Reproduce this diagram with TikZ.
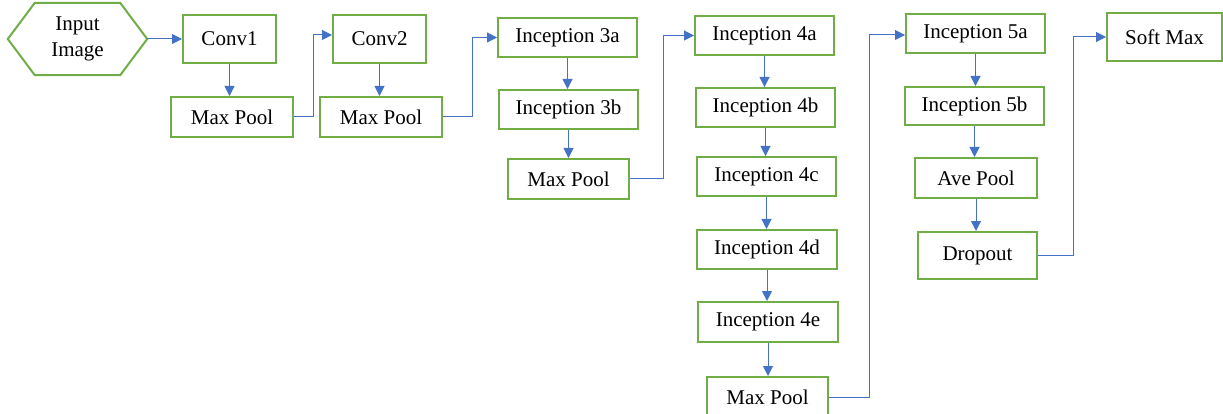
\documentclass[tikz,border=0pt]{standalone}
\usepackage{fontspec}
\setmainfont{Liberation Serif}
\usetikzlibrary{arrows.meta}
\definecolor{boxgreen}{HTML}{70AD47}
\definecolor{arrblue}{HTML}{4472C4}
\begin{document}
\begin{tikzpicture}[x=1pt,y=-1pt,
  box/.style={draw=boxgreen, line width=2pt, inner sep=0pt, align=center,
    font=\fontsize{21}{25}\selectfont},
  arr/.style={draw=arrblue, line width=1pt, -{Triangle[length=10pt,width=10pt]}}]
\useasboundingbox (0,0) rectangle (1223,414);
% input hexagon
\node[inner sep=0pt, minimum width=139pt, minimum height=72pt, align=center,
  font=\fontsize{21}{26}\selectfont] (in) at (77.5,39) {Input\\Image};
\draw[boxgreen, line width=2pt, line join=miter]
  (in.west) -- ([xshift=27pt]in.north west) -- ([xshift=-27pt]in.north east)
  -- (in.east) -- ([xshift=-27pt]in.south east) -- ([xshift=27pt]in.south west) -- cycle;
% boxes
\node[box, minimum width=93pt, minimum height=48pt] (conv1) at (229.5,39) {Conv1};
\node[box, minimum width=122pt, minimum height=40pt] (mp1) at (232,117) {Max Pool};
\node[box, minimum width=93pt, minimum height=48pt] (conv2) at (379.5,39) {Conv2};
\node[box, minimum width=122pt, minimum height=40pt] (mp2) at (381,117) {Max Pool};
\node[box, minimum width=139pt, minimum height=39pt] (i3a) at (567.5,37.5) {Inception 3a};
\node[box, minimum width=139pt, minimum height=39pt] (i3b) at (568.5,109.5) {Inception 3b};
\node[box, minimum width=121pt, minimum height=40pt] (mp3) at (568.5,179) {Max Pool};
\node[box, minimum width=139pt, minimum height=39pt] (i4a) at (764.5,35.5) {Inception 4a};
\node[box, minimum width=139pt, minimum height=39pt] (i4b) at (765.5,107.5) {Inception 4b};
\node[box, minimum width=139pt, minimum height=39pt] (i4c) at (766.5,176.5) {Inception 4c};
\node[box, minimum width=140pt, minimum height=39pt] (i4d) at (767,249.5) {Inception 4d};
\node[box, minimum width=140pt, minimum height=40pt] (i4e) at (768,322) {Inception 4e};
\node[box, minimum width=121pt, minimum height=40pt] (mp4) at (767.5,397) {Max Pool};
\node[box, minimum width=139pt, minimum height=39pt] (i5a) at (975.5,33.5) {Inception 5a};
\node[box, minimum width=139pt, minimum height=38pt] (i5b) at (974.5,106) {Inception 5b};
\node[box, minimum width=122pt, minimum height=40pt] (ap) at (976,178) {Ave Pool};
\node[box, minimum width=119pt, minimum height=47pt] (drop) at (977.5,255.5) {Dropout};
\node[box, minimum width=115pt, minimum height=48pt] (sm) at (1164.5,37) {Soft Max};
% connectors
\draw[arr] (in.east) -- (conv1.west);
\draw[arr] (conv1.south) -- (conv1.south |- mp1.north);
\draw[arr] (mp1.east) -- ++(19,0) |- ([yshift=4pt]conv2.west);
\draw[arr] (conv2.south) -- (conv2.south |- mp2.north);
\draw[arr] (mp2.east) -- ++(29,0) |- (i3a.west);
\draw[arr] (i3a.south) -- (i3a.south |- i3b.north);
\draw[arr] (i3b.south) -- (i3b.south |- mp3.north);
\draw[arr] (mp3.east) -- ++(33,0) |- (i4a.west);
\draw[arr] (i4a.south) -- (i4a.south |- i4b.north);
\draw[arr] (i4b.south) -- (i4b.south |- i4c.north);
\draw[arr] (i4c.south) -- (i4c.south |- i4d.north);
\draw[arr] (i4d.south) -- (i4d.south |- i4e.north);
\draw[arr] (i4e.south) -- (i4e.south |- mp4.north);
\draw[arr] (mp4.east) -- ++(40,0) |- ([yshift=-1.5pt]i5a.west);
\draw[arr] (i5a.south) -- (i5a.south |- i5b.north);
\draw[arr] (i5b.south) -- (i5b.south |- ap.north);
\draw[arr] (ap.south) -- (ap.south |- drop.north);
\draw[arr] (drop.east) -- ++(35,0) |- (sm.west);
\end{tikzpicture}
\end{document}
